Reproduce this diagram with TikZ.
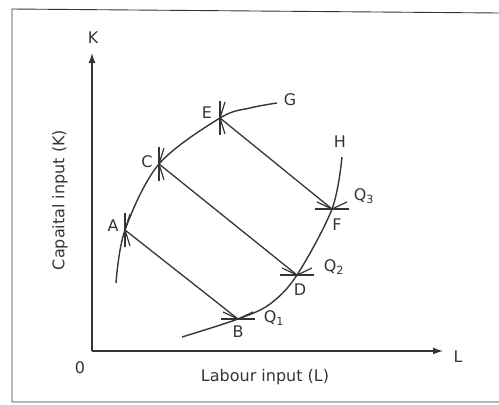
\documentclass[tikz,border=0pt]{standalone}
\usepackage{fontspec}
\setmainfont{DejaVu Sans}
\usetikzlibrary{arrows.meta}
\definecolor{ink}{HTML}{353535}
\tikzset{
  lbl/.style={font=\fontsize{16}{19}\selectfont, text=ink, inner sep=0pt},
  axisline/.style={draw=ink, line width=1.3pt, -{Latex[length=10pt,width=7pt]}},
  curveline/.style={draw=ink, line width=1.4pt},
  rayline/.style={draw=ink, line width=1.3pt},
  frameline/.style={draw=ink, line width=0.9pt},
  vtick/.pic={\draw[ink, line width=1.2pt] (0,-17)--(0,17); \draw[ink, line width=1.2pt] (5,-16)--(0,0)--(5,16);},
  htick/.pic={\draw[ink, line width=1.2pt] (-17,0)--(17,0); \draw[ink, line width=1.2pt] (-15,-7)--(0,0)--(15,-7);}
}
\begin{document}
\begin{tikzpicture}[x=1pt,y=-1pt]
\useasboundingbox (0,0) rectangle (499,405);
% frame
\draw[frameline] (499,13) -- (12,9) -- (12,402) -- (499,402);
% axes
\coordinate (O) at (92,351);
\coordinate (Ktip) at (92,53);
\coordinate (Ltip) at (443,351);
\draw[axisline] (O) -- (Ktip);
\draw[axisline] (O) -- (Ltip);
\node[lbl] (Klab) at (93,38) {K};
\node[lbl] (Llab) at (458,357) {L};
\node[lbl] (Olab) at (80,368) {0};
\node[lbl] (xlab) at (265,377) {Labour input (L)};
\node[lbl, rotate=90] (ylab) at (60,200) {Capaital input (K)};
% points
\coordinate (A) at (125,230);
\coordinate (C) at (159,164);
\coordinate (E) at (220,118);
\coordinate (B) at (238,319);
\coordinate (D) at (297,275);
\coordinate (F) at (332,209);
\coordinate (Gend) at (277,103);
\coordinate (Hend) at (342,157);
\coordinate (Lstart) at (116,283);
\coordinate (Rstart) at (182,337);
% curves
\draw[curveline] plot[smooth, tension=0.55] coordinates {(Lstart) (A) (C) (E) (250,108) (Gend)};
\draw[curveline] plot[smooth, tension=0.55] coordinates {(Rstart) (B) (270,304) (D) (F) (Hend)};
% rays
\draw[rayline] (A) -- (B);
\draw[rayline] (C) -- (D);
\draw[rayline] (E) -- (F);
% ticks
\pic at (A) {vtick};
\pic at (C) {vtick};
\pic at (E) {vtick};
\pic at (B) {htick};
\pic at (D) {htick};
\pic at (F) {htick};
% labels
\node[lbl] (Alab) at (113,226) {A};
\node[lbl] (Clab) at (147,162) {C};
\node[lbl] (Elab) at (207,113) {E};
\node[lbl] (Blab) at (238,332) {B};
\node[lbl] (Dlab) at (300,290) {D};
\node[lbl] (Flab) at (337,225) {F};
\node[lbl] (Glab) at (290,100) {G};
\node[lbl] (Hlab) at (340,142) {H};
\node[lbl] (Q1) at (274,318) {Q\textsubscript{1}};
\node[lbl] (Q2) at (334,267) {Q\textsubscript{2}};
\node[lbl] (Q3) at (364,196) {Q\textsubscript{3}};
\end{tikzpicture}
\end{document}
